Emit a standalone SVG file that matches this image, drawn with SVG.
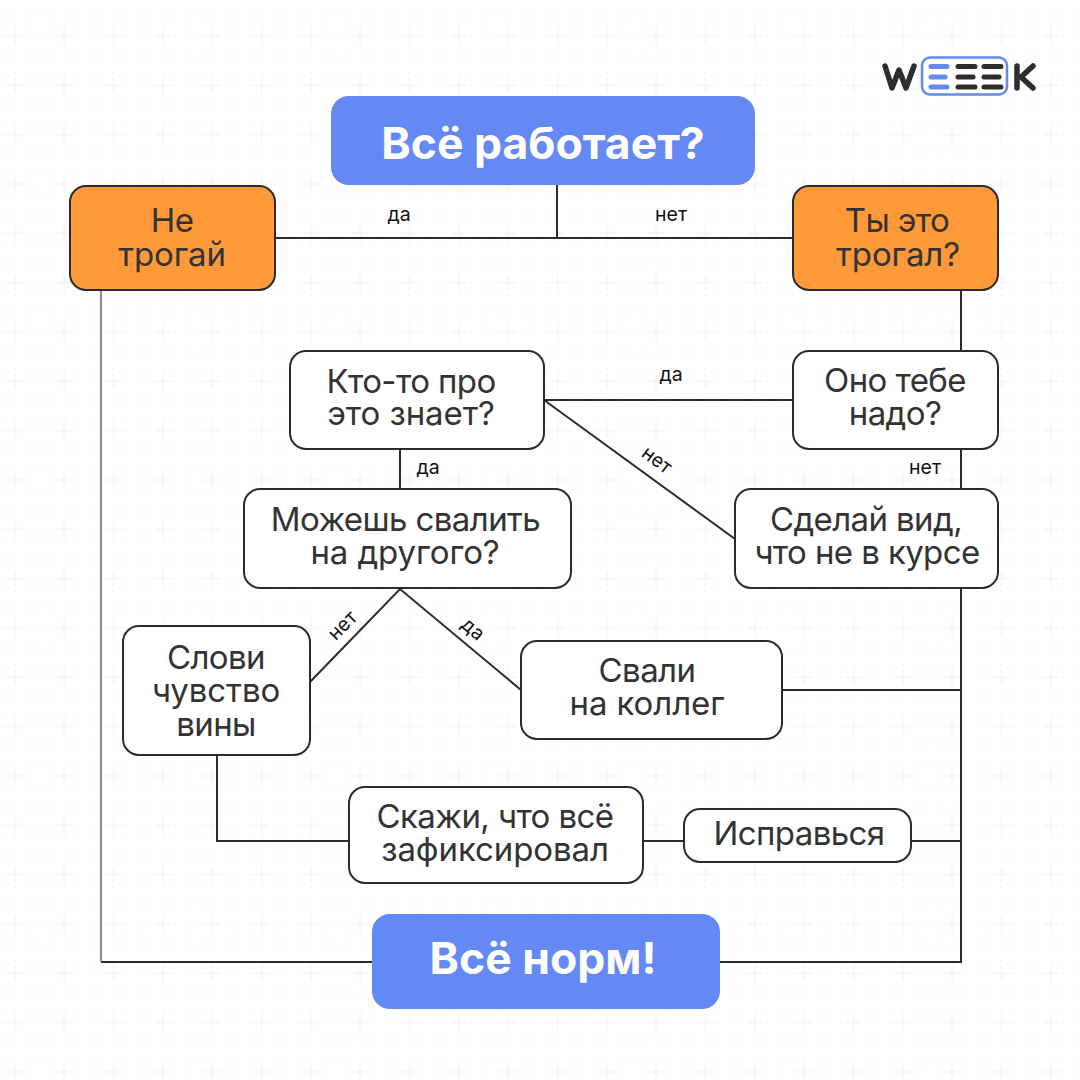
<svg xmlns="http://www.w3.org/2000/svg" width="1080" height="1080" viewBox="0 0 1080 1080">
<style>
text{font-family:Inter,"Liberation Sans",sans-serif;text-anchor:middle;fill:#333}
.t{font-size:33px;letter-spacing:-.6px}
.w{letter-spacing:-.1px}
.h{font-size:44.5px;font-weight:700;fill:#fff}
.l{font-size:19.5px;fill:#111}
.n{fill:#fff;stroke:#2b2b2b;stroke-width:2}
.o{fill:#ff993a;stroke:#2b2b2b;stroke-width:2}
.b{fill:#6488f4}
.c{fill:none;stroke:#2b2b2b;stroke-width:2}
</style>
<defs>
<pattern id="dots" x="0" y="0" width="12.33" height="12.33" patternUnits="userSpaceOnUse"><rect x="1.7" y="10.7" width="2.4" height="2.4" fill="#f5f5f5"/></pattern>
<pattern id="plus" x="0" y="0" width="49.33" height="49.33" patternUnits="userSpaceOnUse"><path d="M7 36H23M15 28V44" stroke="#f6f6f6" stroke-width="2" fill="none"/></pattern>
</defs>
<rect width="1080" height="1080" fill="#fff"/>
<rect width="1080" height="1080" fill="url(#dots)"/>
<rect width="1080" height="1080" fill="url(#plus)"/>
<g id="logo">
<path d="M885 66L892 88L899 70L906 88L914 66" fill="none" stroke="#2d2d2d" stroke-width="5.500" stroke-linecap="round" stroke-linejoin="round"/>
<rect x="922" y="57.500" width="85" height="37" rx="8" fill="#fff" stroke="#6488f4" stroke-width="2.500"/>
<path d="M931 66.500H947M931 77H945M931 87H947" stroke="#6488f4" stroke-width="5" stroke-linecap="round"/>
<path d="M958 66.500H975M958 77H973M958 87H975M984 66.500H1001M984 77H999M984 87H1001" stroke="#2d2d2d" stroke-width="5" stroke-linecap="round"/>
<path d="M1017 66V88M1033 66L1021 77L1033 88" fill="none" stroke="#2d2d2d" stroke-width="5.500" stroke-linecap="round" stroke-linejoin="round"/>
</g>
<g id="connectors">
<path class="c" d="M275 238H793M557 184V238"/>
<path class="c" d="M961 290V351M961 449V489"/>
<path class="c" d="M544 400H793M544 400L735 539"/>
<path class="c" d="M400 449V489"/>
<path class="c" d="M310 682L400 589L521 690"/>
<path class="c" d="M782 690H961M961 588V962H720M912 841H961"/>
<path class="c" d="M644 841H684"/>
<path class="c" d="M217 755V841H349"/>
<path class="c" d="M101 962H372"/>
<path class="c" style="stroke:#8c8c8c" d="M101 290V962"/>
</g>
<g id="labels">
<text class="l" x="399" y="221">да</text>
<text class="l" x="671" y="221">нет</text>
<text class="l" x="671" y="381">да</text>
<text class="l" x="925" y="474">нет</text>
<text class="l" x="428" y="474">да</text>
<text class="l" transform="translate(653 465) rotate(37)">нет</text>
<text class="l" transform="translate(347 630) rotate(-45)">нет</text>
<text class="l" transform="translate(469 634) rotate(40)">да</text>
</g>
<g id="n1"><rect class="b" x="331" y="96" width="424" height="89" rx="18"/><text class="h" x="543" y="159">Всё работает?</text></g>
<g id="n2"><rect class="o" x="70" y="186" width="205" height="104" rx="16"/><text class="t" x="172" y="232">Не</text><text class="t w" x="172" y="266">трогай</text></g>
<g id="n3"><rect class="o" x="793" y="186" width="205" height="104" rx="16"/><text class="t" x="897" y="232">Ты это</text><text class="t w" x="898" y="266">трогал?</text></g>
<g id="n4"><rect class="n" x="290" y="351" width="254" height="98" rx="16"/><text class="t" x="411" y="393">Кто-то про</text><text class="t w" x="411" y="425">это знает?</text></g>
<g id="n5"><rect class="n" x="793" y="351" width="205" height="98" rx="16"/><text class="t" x="895" y="392">Оно тебе</text><text class="t" x="895" y="425">надо?</text></g>
<g id="n6"><rect class="n" x="244" y="489" width="327" height="99" rx="16"/><text class="t" x="405.500" y="531">Можешь свалить</text><text class="t w" x="405" y="564">на другого?</text></g>
<g id="n7"><rect class="n" x="735" y="489" width="263" height="99" rx="16"/><text class="t" x="866" y="531">Сделай вид,</text><text class="t" x="867" y="564">что не в курсе</text></g>
<g id="n8"><rect class="n" x="123" y="626" width="187" height="129" rx="16"/><text class="t" x="216" y="669">Слови</text><text class="t w" x="216" y="702">чувство</text><text class="t" x="216" y="736">вины</text></g>
<g id="n9"><rect class="n" x="521" y="641" width="261" height="98" rx="16"/><text class="t" x="647" y="682">Свали</text><text class="t w" x="647" y="715">на коллег</text></g>
<g id="n10"><rect class="n" x="349" y="787" width="294" height="96" rx="16"/><text class="t" x="495" y="828">Скажи, что всё</text><text class="t w" x="495" y="861">зафиксировал</text></g>
<g id="n11"><rect class="n" x="684" y="809" width="227" height="53" rx="16"/><text class="t" x="799" y="845">Исправься</text></g>
<g id="n12"><rect class="b" x="372" y="914" width="348" height="95" rx="18"/><text class="h" x="543" y="974">Всё норм!</text></g>
</svg>
